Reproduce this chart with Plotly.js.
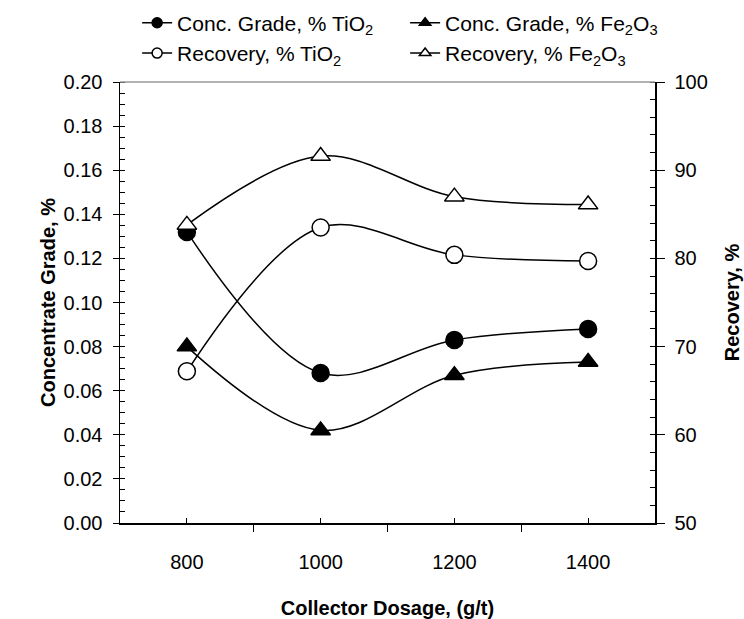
<!DOCTYPE html>
<html>
<head>
<meta charset="utf-8">
<script src="https://cdn.plot.ly/plotly-3.0.1.min.js"></script>
<style>html,body{margin:0;padding:0;background:#fff;}#chart{width:744px;height:619px;}</style>
</head>
<body>
<div id="chart"></div>
<script>
const dosage = [800, 1000, 1200, 1400];
const gradeTiO2 = [0.132, 0.068, 0.083, 0.088];
const gradeFe2O3 = [0.080, 0.042, 0.067, 0.073];
const recTiO2 = [67.2, 83.5, 80.4, 79.7];
const recFe2O3 = [83.8, 91.6, 87.0, 86.1];
const names = ['Conc. Grade, % TiO<sub>2</sub>', 'Conc. Grade, % Fe<sub>2</sub>O<sub>3</sub>',
               'Recovery, % TiO<sub>2</sub>', 'Recovery, % Fe<sub>2</sub>O<sub>3</sub>'];
const xTicks = [800, 1000, 1200, 1400];

const FONT = 'Liberation Sans, Arial, sans-serif';
const lineStyle = {color: '#000', width: 1.5, shape: 'spline', smoothing: 1};
function mk(sym, fill) { return {symbol: sym, size: 17, color: fill, line: {color: '#000', width: 1.5}}; }
const markers = [mk('circle', '#000'), mk('triangle-up', '#000'), mk('circle', '#fff'), mk('triangle-up', '#fff')];
const series = [gradeTiO2, gradeFe2O3, recTiO2, recFe2O3];
const axes = ['y', 'y', 'y2', 'y2'];

const traces = [];
series.forEach((s, i) => {
  traces.push({x: dosage, y: s, yaxis: axes[i], type: 'scatter', mode: 'lines+markers',
    line: lineStyle, marker: markers[i], showlegend: false, hoverinfo: 'skip'});
});
// legend entries (smaller markers)
series.forEach((s, i) => {
  traces.push({x: [null], y: [null], yaxis: axes[i], type: 'scatter', mode: 'lines+markers', name: names[i],
    line: {color: '#000', width: 1.5}, marker: Object.assign({}, markers[i], {size: 10})});
});

const layout = {
  width: 744, height: 619,
  margin: {l: 120, r: 89, t: 82, b: 96, autoexpand: false},
  paper_bgcolor: '#fff', plot_bgcolor: '#fff',
  font: {family: FONT, size: 20, color: '#000'},
  showlegend: true,
  legend: {orientation: 'h', x: 0.032, xanchor: 'left', y: 1.18, yanchor: 'top',
    entrywidth: 223, entrywidthmode: 'pixels', font: {family: FONT, size: 21},
    bgcolor: 'rgba(0,0,0,0)', tracegroupgap: 0, itemclick: false},
  xaxis: {range: [700, 1500], tickmode: 'array', tickvals: xTicks, ticks: 'inside', ticklen: 5,
    tickcolor: '#000', showgrid: false, zeroline: false, showline: true, linecolor: '#000', linewidth: 1.5,
    tickfont: {size: 20}, ticklabelstandoff: 20,
    minor: {tickmode: 'linear', tick0: 700, dtick: 200, ticks: 'outside', ticklen: 7, tickcolor: '#000', showgrid: false},
    title: {text: '<b>Collector Dosage, (g/t)</b>', font: {size: 20}, standoff: 33}},
  yaxis: {range: [0, 0.2], dtick: 0.02, tickformat: '.2f', ticks: 'outside', ticklen: 6, tickcolor: '#000',
    showgrid: false, zeroline: false, showline: true, linecolor: '#000', linewidth: 1.5, ticklabelstandoff: 6,
    minor: {dtick: 0.005, ticks: 'inside', ticklen: 5, tickcolor: '#000', showgrid: false},
    title: {text: '<b>Concentrate Grade, %</b>', font: {size: 20}, standoff: 2}},
  yaxis2: {range: [50, 100], dtick: 10, overlaying: 'y', side: 'right', ticks: 'outside', ticklen: 8,
    tickcolor: '#000', showgrid: false, zeroline: false, showline: true, linecolor: '#000', linewidth: 1.5,
    ticklabelstandoff: 6,
    minor: {dtick: 2, ticks: 'inside', ticklen: 5, tickcolor: '#000', showgrid: false},
    title: {text: '<b>Recovery, %</b>', font: {size: 20}, standoff: 18}},
  shapes: [{type: 'line', xref: 'paper', yref: 'paper', x0: 0, x1: 1, y0: 1, y1: 1,
    line: {color: '#999', width: 1.5}}]
};

Plotly.newPlot('chart', traces, layout, {displayModeBar: false, staticPlot: true});
</script>
</body>
</html>
